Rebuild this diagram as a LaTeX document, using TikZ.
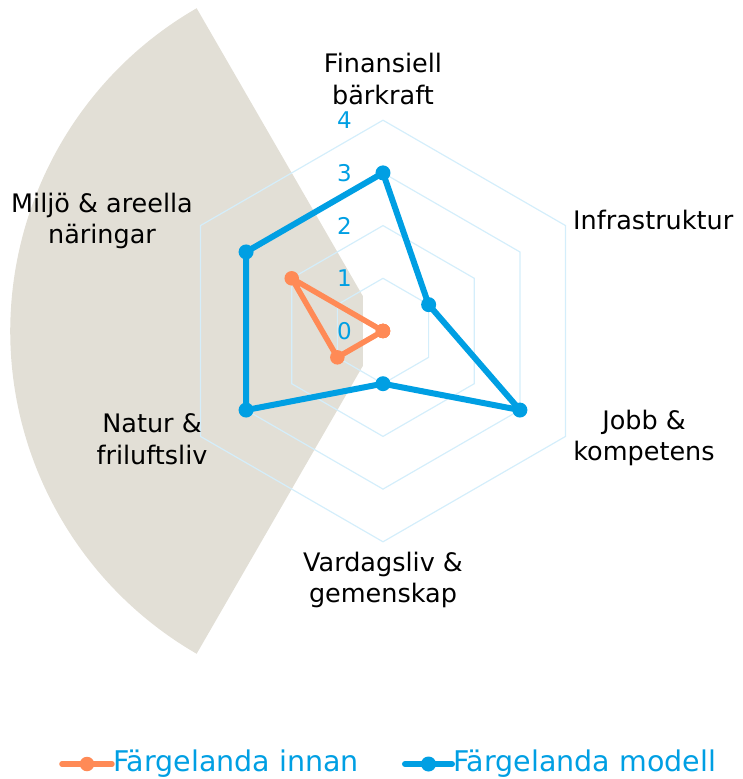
\documentclass[tikz,border=0pt]{standalone}
\usepackage{fontspec}
\setmainfont{DejaVu Sans}
\usetikzlibrary{calc}
\definecolor{sand}{HTML}{E2DFD6}
\definecolor{modellblue}{HTML}{009FE3}
\definecolor{innanorange}{HTML}{FF8A56}
\definecolor{gridblue}{HTML}{D4EEFB}
\def\sc{52.7}
\def\srad{372.7}
\def\irad{40}

\begin{document}
\begin{tikzpicture}[
    x=1pt,y=1pt,
    sector/.style={fill=sand},
    gridline/.style={draw=gridblue,line width=1.2pt,line join=miter},
    levellabel/.style={anchor=east,text=modellblue,font=\fontsize{23}{27}\selectfont,inner sep=0pt},
    axislabel/.style={align=center,font=\fontsize{25.5}{31.5}\selectfont,inner sep=0pt},
    bluedot/.style={circle,fill=modellblue,inner sep=0pt,minimum size=15pt},
    orangedot/.style={circle,fill=innanorange,inner sep=0pt,minimum size=14.5pt},
    blueline/.style={draw=modellblue,line width=6pt,line join=round},
    orangeline/.style={draw=innanorange,line width=5.5pt,line join=round},
    legendtext/.style={anchor=west,text=modellblue,font=\fontsize{28.5}{31}\selectfont,inner sep=0pt}
  ]
  \useasboundingbox (-383,-448) rectangle (359,331);

  % shaded sector behind the chart
  \fill[sector] (120:\irad pt) -- (120:\srad pt) arc[start angle=120,end angle=240,radius=\srad pt] -- (240:\irad pt) -- cycle;

  % hexagonal grid and level numbers
  \foreach \r in {1,...,4}
    \draw[gridline] (90:{\r*\sc}) -- (30:{\r*\sc}) -- (-30:{\r*\sc}) -- (-90:{\r*\sc}) -- (-150:{\r*\sc}) -- (150:{\r*\sc}) -- cycle;
  \foreach \r in {0,...,4}
    \node[levellabel] (lvl\r) at (-31,{\r*\sc}) {\r};

  % axis labels
  \node[axislabel] (finans) at (0,252) {Finansiell\\bärkraft};
  \node[axislabel,anchor=west] (infra) at (190,111) {Infrastruktur};
  \node[axislabel] (jobb) at (261,-107) {Jobb \&\\kompetens};
  \node[axislabel] (vardag) at (0,-249) {Vardagsliv \&\\gemenskap};
  \node[axislabel] (natur) at (-231,-108) {Natur \&\\friluftsliv};
  \node[axislabel] (miljo) at (-281,110) {Miljö \& areella\\näringar};

  % Färgelanda innan
  \foreach \v [count=\i] in {0,0,0,0,1,2}
    \coordinate (i\i) at ({150-60*\i}:{\v*\sc});
  \draw[orangeline] (i1) -- (i2) -- (i3) -- (i4) -- (i5) -- (i6) -- cycle;
  \foreach \i in {1,...,6}
    \node[orangedot] (idot\i) at (i\i) {};

  % Färgelanda modell
  \foreach \v [count=\i] in {3,1,3,1,3,3}
    \coordinate (m\i) at ({150-60*\i}:{\v*\sc});
  \draw[blueline] (m1) -- (m2) -- (m3) -- (m4) -- (m5) -- (m6) -- cycle;
  \foreach \i in {1,...,6}
    \node[bluedot] (mdot\i) at (m\i) {};

  % legend
  \coordinate (innanA) at (-321,-433);
  \coordinate (innanB) at (-271,-433);
  \draw[orangeline,line cap=round] (innanA) -- (innanB);
  \node[orangedot] (innandot) at ($(innanA)!0.5!(innanB)$) {};
  \node[legendtext] (innantext) at (-270,-433) {Färgelanda innan};
  \coordinate (modellA) at (22,-433);
  \coordinate (modellB) at (69,-433);
  \draw[blueline,line cap=round] (modellA) -- (modellB);
  \node[bluedot] (modelldot) at ($(modellA)!0.5!(modellB)$) {};
  \node[legendtext] (modelltext) at (70,-433) {Färgelanda modell};
\end{tikzpicture}
\end{document}
